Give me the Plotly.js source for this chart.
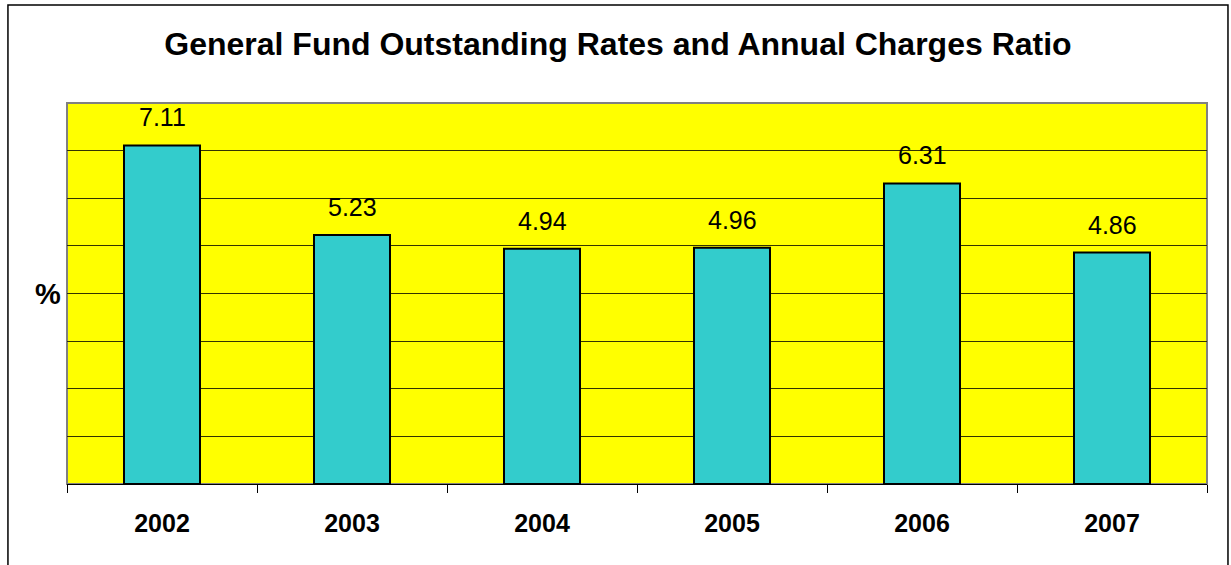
<!DOCTYPE html>
<html>
<head>
<meta charset="utf-8">
<script src="https://cdn.plot.ly/plotly-3.0.1.min.js"></script>
<style>html,body{margin:0;padding:0;background:#fff;}#chart{width:1231px;height:565px;}</style>
</head>
<body>
<div id="chart"></div>
<script>
const years = ['2002', '2003', '2004', '2005', '2006', '2007'];
const ratios = [7.11, 5.23, 4.94, 4.96, 6.31, 4.86];
const valueLabels = ['7.11', '5.23', '4.94', '4.96', '6.31', '4.86'];
const chartTitle = 'General Fund Outstanding Rates and Annual Charges Ratio';
const yTitle = '%';

const FONT = 'Liberation Sans, Arial, sans-serif';

const trace = {
  type: 'bar',
  x: years,
  y: ratios,
  width: 0.4,
  marker: {color: '#33CCCC', line: {color: '#000000', width: 2}},
  hoverinfo: 'x+y'
};

const annotations = years.map((yr, i) => ({
  x: i, y: ratios[i], xref: 'x', yref: 'y',
  text: valueLabels[i], showarrow: false,
  yanchor: 'bottom', yshift: 12,
  font: {family: FONT, size: 25, color: '#000'}
}));
annotations.push({
  xref: 'paper', yref: 'y', x: 0, y: 4, xanchor: 'right', xshift: -4,
  text: '<b>' + yTitle + '</b>', showarrow: false,
  font: {family: FONT, size: 29, color: '#000'}
});

const layout = {
  width: 1231, height: 565,
  margin: {l: 67, r: 24, t: 103, b: 81},
  paper_bgcolor: '#ffffff',
  plot_bgcolor: '#ffff00',
  showlegend: false,
  title: {
    text: '<b>' + chartTitle + '</b>',
    x: 0.502, xanchor: 'center', y: 0.922, yanchor: 'middle',
    font: {family: FONT, size: 32, color: '#000'}
  },
  xaxis: {
    type: 'category',
    range: [-0.5, 5.5],
    tickson: 'boundaries',
    ticks: 'outside', ticklen: 8, tickwidth: 1, tickcolor: '#000',
    showline: true, linecolor: '#000', linewidth: 1,
    showgrid: false,
    tickangle: 0,
    ticklabelstandoff: 17,
    tickfont: {family: FONT, size: 25, color: '#000', weight: 'bold'},
    fixedrange: true
  },
  yaxis: {
    range: [0, 8],
    dtick: 1,
    showticklabels: false,
    ticks: '',
    showgrid: true, gridcolor: '#333300', gridwidth: 1,
    zeroline: false,
    fixedrange: true
  },
  shapes: [
    {type: 'rect', xref: 'paper', yref: 'paper', x0: 0, x1: 1, y0: 0, y1: 1,
     line: {color: '#808080', width: 2}, fillcolor: 'rgba(0,0,0,0)', layer: 'below'},
    {type: 'rect', xref: 'paper', yref: 'paper', x0: -0.0518, x1: 1.0184, y0: -0.25, y1: 1.2572,
     line: {color: '#000', width: 1.5}, fillcolor: 'rgba(0,0,0,0)'}
  ],
  annotations: annotations
};

Plotly.newPlot('chart', [trace], layout, {displayModeBar: false, staticPlot: true});
</script>
</body>
</html>
